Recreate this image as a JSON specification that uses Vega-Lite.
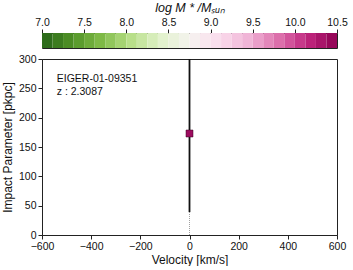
{
  "$schema": "https://vega.github.io/schema/vega-lite/v6.json",
  "padding": {"left": 0, "top": 0, "right": 5, "bottom": 0},
  "spacing": 4,
  "config": {
    "font": "Liberation Sans",
    "view": {"stroke": "#222", "strokeWidth": 1},
    "axis": {
      "grid": false,
      "domainColor": "#222",
      "tickColor": "#222",
      "tickSize": 4,
      "labelFontSize": 10.5,
      "labelColor": "#111",
      "labelOverlap": false,
      "labelFlush": false,
      "titleFontSize": 12,
      "titleFontWeight": "normal",
      "titleColor": "#111",
      "labelPadding": 2
    }
  },
  "datasets": {
    "cbardata": [
      {"lo": 7.0, "hi": 7.125, "mid": 7.0625},
      {"lo": 7.125, "hi": 7.25, "mid": 7.1875},
      {"lo": 7.25, "hi": 7.375, "mid": 7.3125},
      {"lo": 7.375, "hi": 7.5, "mid": 7.4375},
      {"lo": 7.5, "hi": 7.625, "mid": 7.5625},
      {"lo": 7.625, "hi": 7.75, "mid": 7.6875},
      {"lo": 7.75, "hi": 7.875, "mid": 7.8125},
      {"lo": 7.875, "hi": 8.0, "mid": 7.9375},
      {"lo": 8.0, "hi": 8.125, "mid": 8.0625},
      {"lo": 8.125, "hi": 8.25, "mid": 8.1875},
      {"lo": 8.25, "hi": 8.375, "mid": 8.3125},
      {"lo": 8.375, "hi": 8.5, "mid": 8.4375},
      {"lo": 8.5, "hi": 8.625, "mid": 8.5625},
      {"lo": 8.625, "hi": 8.75, "mid": 8.6875},
      {"lo": 8.75, "hi": 8.875, "mid": 8.8125},
      {"lo": 8.875, "hi": 9.0, "mid": 8.9375},
      {"lo": 9.0, "hi": 9.125, "mid": 9.0625},
      {"lo": 9.125, "hi": 9.25, "mid": 9.1875},
      {"lo": 9.25, "hi": 9.375, "mid": 9.3125},
      {"lo": 9.375, "hi": 9.5, "mid": 9.4375},
      {"lo": 9.5, "hi": 9.625, "mid": 9.5625},
      {"lo": 9.625, "hi": 9.75, "mid": 9.6875},
      {"lo": 9.75, "hi": 9.875, "mid": 9.8125},
      {"lo": 9.875, "hi": 10.0, "mid": 9.9375},
      {"lo": 10.0, "hi": 10.125, "mid": 10.0625},
      {"lo": 10.125, "hi": 10.25, "mid": 10.1875},
      {"lo": 10.25, "hi": 10.375, "mid": 10.3125},
      {"lo": 10.375, "hi": 10.5, "mid": 10.4375}
    ],
    "solidline": [
      {"v": 0, "b0": 39, "b1": 300}
    ],
    "dotline": [
      {"v": 0, "b0": 0, "b1": 39}
    ],
    "galdata": [
      {"v": 0, "b": 173, "mass": 10.4}
    ],
    "textdata": [
      {"v": -540, "b": 274, "txt": "EIGER-01-09351"},
      {"v": -540, "b": 253, "txt": "z : 2.3087"}
    ]
  },
  "vconcat": [
    {
      "width": 295,
      "height": 15,
      "data": {"name": "cbardata"},
      "mark": {"type": "rect"},
      "encoding": {
        "x": {
          "field": "lo", "type": "quantitative",
          "scale": {"domain": [7, 10.5], "nice": false, "zero": false},
          "axis": {
            "orient": "top",
            "values": [7, 7.5, 8, 8.5, 9, 9.5, 10, 10.5],
            "format": ".1f",
            "title": "log M * /Mₛᵤₙ",
            "titleFontStyle": "italic",
            "titleFontSize": 12.5,
            "titlePadding": 3,
            "domain": false
          }
        },
        "x2": {"field": "hi"},
        "color": {
          "field": "mid", "type": "quantitative",
          "scale": {"scheme": "pinkyellowgreen", "reverse": true, "domain": [7, 10.5]},
          "legend": null
        }
      }
    },
    {
      "width": 295,
      "height": 176,
      "encoding": {
        "x": {
          "field": "v", "type": "quantitative",
          "scale": {"domain": [-600, 600], "nice": false},
          "axis": {"values": [-600, -400, -200, 0, 200, 400, 600], "title": "Velocity [km/s]", "titlePadding": 3, "labelOverlap": false}
        }
      },
      "layer": [
        {
          "data": {"name": "solidline"},
          "mark": {"type": "rule", "color": "#111", "strokeWidth": 1.8},
          "encoding": {
            "y": {
              "field": "b0", "type": "quantitative",
              "scale": {"domain": [0, 300], "nice": false},
              "axis": {"values": [0, 50, 100, 150, 200, 250, 300], "tickCount": 7, "title": "Impact Parameter [pkpc]", "titlePadding": 4, "labelOverlap": false}
            },
            "y2": {"field": "b1"}
          }
        },
        {
          "data": {"name": "dotline"},
          "mark": {"type": "rule", "color": "#888", "strokeWidth": 0.8, "strokeDash": [1, 1]},
          "encoding": {
            "y": {
              "field": "b0", "type": "quantitative",
              "scale": {"domain": [0, 300], "nice": false},
              "axis": {"values": [0, 50, 100, 150, 200, 250, 300], "tickCount": 7, "title": "Impact Parameter [pkpc]", "titlePadding": 4, "labelOverlap": false}
            },
            "y2": {"field": "b1"}
          }
        },
        {
          "data": {"name": "galdata"},
          "mark": {"type": "square", "size": 49, "filled": true, "opacity": 1, "stroke": "#3a0020", "strokeWidth": 0.5},
          "encoding": {
            "y": {
              "field": "b", "type": "quantitative",
              "scale": {"domain": [0, 300], "nice": false},
              "axis": {"values": [0, 50, 100, 150, 200, 250, 300], "tickCount": 7, "title": "Impact Parameter [pkpc]", "titlePadding": 4, "labelOverlap": false}
            },
            "color": {
              "field": "mass", "type": "quantitative",
              "scale": {"scheme": "pinkyellowgreen", "reverse": true, "domain": [7, 10.5]},
              "legend": null
            }
          }
        },
        {
          "data": {"name": "textdata"},
          "mark": {"type": "text", "align": "left", "baseline": "top", "fontSize": 10.5, "color": "#111"},
          "encoding": {
            "y": {
              "field": "b", "type": "quantitative",
              "scale": {"domain": [0, 300], "nice": false},
              "axis": {"values": [0, 50, 100, 150, 200, 250, 300], "tickCount": 7, "title": "Impact Parameter [pkpc]", "titlePadding": 4, "labelOverlap": false}
            },
            "text": {"field": "txt"}
          }
        }
      ]
    }
  ]
}
